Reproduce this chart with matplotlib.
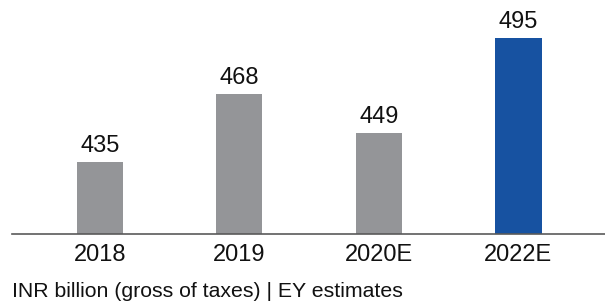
import matplotlib
matplotlib.use("Agg")
import matplotlib.pyplot as plt

## ----------------------------------------------------------------------------
## Data
## ----------------------------------------------------------------------------
years = ["2018", "2019", "2020E", "2022E"]
values = [435, 468, 449, 495]
bar_colors = ["#949598", "#949598", "#949598", "#1752a1"]
note = "INR billion (gross of taxes) | EY estimates"

## ----------------------------------------------------------------------------
## Plot
## ----------------------------------------------------------------------------
plt.rcParams['font.family'] = ['Liberation Sans', 'DejaVu Sans']

fig = plt.figure(figsize=(6.05, 3.01), dpi=100)
ax = fig.add_axes([12 / 605, 67 / 301, 593 / 605, 234 / 301])

x = range(len(years))
bars = ax.bar(x, [v - 400 for v in values], bottom=400, width=0.33,
              color=bar_colors)

## value labels above the bars
for b, v in zip(bars, values):
    ax.annotate(str(v), (b.get_x() + b.get_width() / 2, b.get_y() + b.get_height()),
                xytext=(0, 3.5), textcoords="offset points",
                ha="center", va="bottom", fontsize=17, color="#111111")

ax.set_xlim(-0.63, 3.62)
ax.set_ylim(400, 513.5)
ax.set_xticks(list(x))
ax.set_xticklabels(years, fontsize=17, color="#111111")
ax.tick_params(axis="x", length=0, pad=7)
ax.set_yticks([])

for side in ["top", "right", "left"]:
    ax.spines[side].set_visible(False)
ax.spines["bottom"].set_color("#5a5a5a")
ax.spines["bottom"].set_linewidth(1.2)

fig.text(12 / 605, 4.3 / 301, note, fontsize=15.3, color="#111111",
         ha="left", va="baseline")

fig.savefig("out.png", dpi=100)
